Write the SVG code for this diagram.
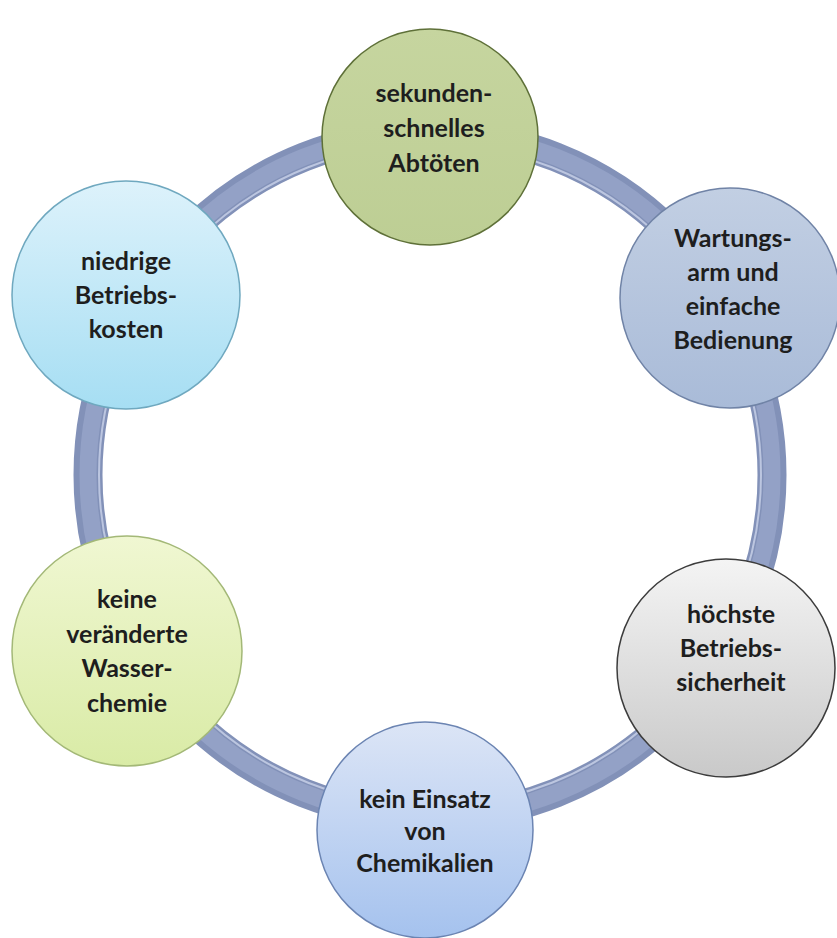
<svg xmlns="http://www.w3.org/2000/svg" width="837" height="938" viewBox="0 0 837 938">
  <defs>
    <linearGradient id="gGreen" x1="0" y1="0" x2="0" y2="1">
      <stop offset="0" stop-color="#C6D59F"/>
      <stop offset="1" stop-color="#BDCE94"/>
    </linearGradient>
    <linearGradient id="gSteel" x1="0" y1="0" x2="0" y2="1">
      <stop offset="0" stop-color="#C2CFE3"/>
      <stop offset="1" stop-color="#A9BBD8"/>
    </linearGradient>
    <linearGradient id="gGray" x1="0" y1="0" x2="0" y2="1">
      <stop offset="0" stop-color="#F4F4F4"/>
      <stop offset="1" stop-color="#C9C9C9"/>
    </linearGradient>
    <linearGradient id="gBlue" x1="0" y1="0" x2="0" y2="1">
      <stop offset="0" stop-color="#DCE5F6"/>
      <stop offset="1" stop-color="#A5C2EE"/>
    </linearGradient>
    <linearGradient id="gLime" x1="0" y1="0" x2="0" y2="1">
      <stop offset="0" stop-color="#F0F7D2"/>
      <stop offset="1" stop-color="#D9EBA6"/>
    </linearGradient>
    <linearGradient id="gCyan" x1="0" y1="0" x2="0" y2="1">
      <stop offset="0" stop-color="#DDF2FB"/>
      <stop offset="1" stop-color="#A6DEF3"/>
    </linearGradient>
  </defs>
  <style>
    .ringOuter { fill: none; stroke: #8291B8; stroke-width: 29; }
    .ringInner { fill: none; stroke: #93A1C6; stroke-width: 17; }
    .ringHi { fill: none; stroke: #BCC6E0; stroke-width: 2; }
    .node { stroke-width: 1.5; }
    .lbl { font-family: Lato, "Open Sans", "Liberation Sans", sans-serif; font-weight: bold; font-size: 25px; fill: #1E1E1E; text-anchor: middle; }
  </style>
  <rect width="837" height="938" fill="#FFFFFF"/>
  <g id="connectors">
    <circle class="ringOuter" cx="430" cy="475" r="342"/>
    <circle class="ringInner" cx="430" cy="475" r="342"/>
    <circle class="ringHi" cx="430" cy="475" r="331"/>
  </g>
  <g id="node-abtoeten">
    <circle class="node" cx="430" cy="137" r="108" fill="url(#gGreen)" stroke="#5E7038"/>
    <text class="lbl" x="434" y="102">sekunden-</text>
    <text class="lbl" x="434" y="137">schnelles</text>
    <text class="lbl" x="434" y="172">Abtöten</text>
  </g>
  <g id="node-wartung">
    <circle class="node" cx="730" cy="298" r="110" fill="url(#gSteel)" stroke="#7083A6"/>
    <text class="lbl" x="733" y="247">Wartungs-</text>
    <text class="lbl" x="733" y="281">arm und</text>
    <text class="lbl" x="733" y="315">einfache</text>
    <text class="lbl" x="733" y="349">Bedienung</text>
  </g>
  <g id="node-sicherheit">
    <circle class="node" cx="726" cy="668" r="109" fill="url(#gGray)" stroke="#3C3C3C"/>
    <text class="lbl" x="731" y="623">höchste</text>
    <text class="lbl" x="731" y="657">Betriebs-</text>
    <text class="lbl" x="731" y="691">sicherheit</text>
  </g>
  <g id="node-chemikalien">
    <circle class="node" cx="425" cy="830" r="108" fill="url(#gBlue)" stroke="#6B84B2"/>
    <text class="lbl" x="425" y="808">kein Einsatz</text>
    <text class="lbl" x="425" y="840">von</text>
    <text class="lbl" x="425" y="872">Chemikalien</text>
  </g>
  <g id="node-wasserchemie">
    <circle class="node" cx="127" cy="651" r="115" fill="url(#gLime)" stroke="#A3B877"/>
    <text class="lbl" x="127" y="608">keine</text>
    <text class="lbl" x="127" y="643">veränderte</text>
    <text class="lbl" x="127" y="677">Wasser-</text>
    <text class="lbl" x="127" y="712">chemie</text>
  </g>
  <g id="node-betriebskosten">
    <circle class="node" cx="126" cy="295" r="114" fill="url(#gCyan)" stroke="#6FA8BF"/>
    <text class="lbl" x="126" y="270">niedrige</text>
    <text class="lbl" x="126" y="304">Betriebs-</text>
    <text class="lbl" x="126" y="338">kosten</text>
  </g>
</svg>
